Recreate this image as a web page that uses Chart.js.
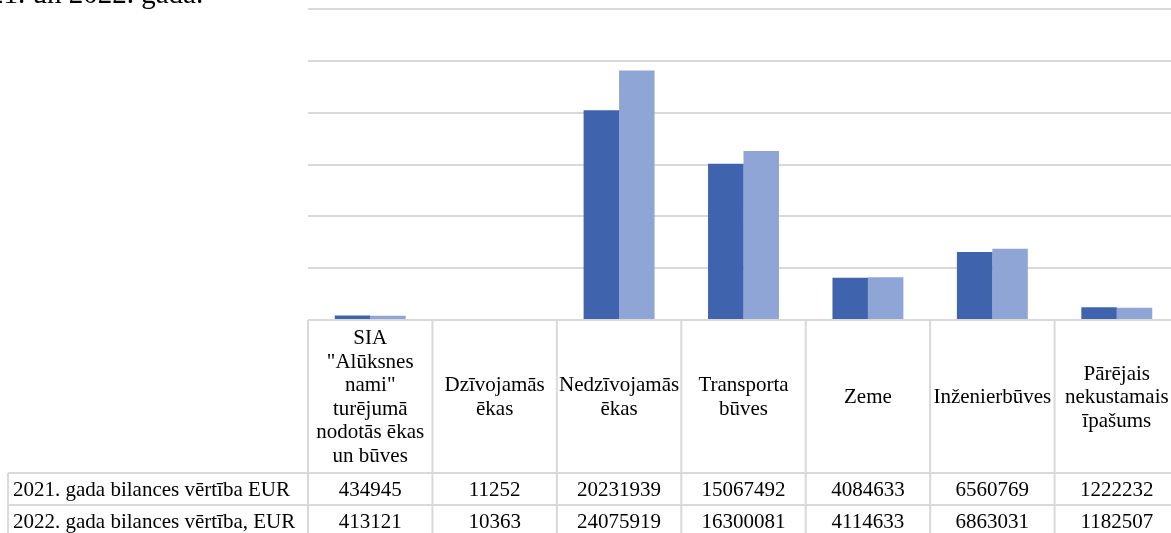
<!DOCTYPE html>
<html>
<head>
<meta charset="utf-8">
<script src="https://cdn.jsdelivr.net/npm/chart.js@4/dist/chart.umd.min.js"></script>
<style>
  html, body { margin: 0; padding: 0; background: #fff; overflow: hidden; }
  #wrap { position: relative; width: 1171px; height: 533px; overflow: hidden; }
  #title { position: absolute; left: -40px; top: -23px; font-family: "Liberation Serif", "Times New Roman", serif;
           font-size: 29px; color: #000; white-space: nowrap; }
  canvas { position: absolute; left: 0; top: 0; }
</style>
</head>
<body>
<div id="wrap">
  <canvas id="c" width="1180" height="533"></canvas>
  <div id="title">2021. un 2022. gada.</div>
</div>
<script>
// kategorijas (rindas galvenē)
var categories = [
  ['SIA', '"Alūksnes', 'nami"', 'turējumā', 'nodotās ēkas', 'un būves'],
  ['Dzīvojamās', 'ēkas'],
  ['Nedzīvojamās', 'ēkas'],
  ['Transporta', 'būves'],
  ['Zeme'],
  ['Inženierbūves'],
  ['Pārējais', 'nekustamais', 'īpašums']
];
var seriesNames = ['2021. gada bilances vērtība EUR', '2022. gada bilances vērtība, EUR'];
var values2021 = [434945, 11252, 20231939, 15067492, 4084633, 6560769, 1222232];
var values2022 = [413121, 10363, 24075919, 16300081, 4114633, 6863031, 1182507];
var colors = ['#3F64AD', '#8FA5D5'];

var FONT = '21px "Liberation Serif", "Times New Roman", serif';
var LINE = '#d9d9d9';

// zīmē datu tabulu zem grafika
var dataTable = {
  id: 'dataTable',
  afterDraw: function(chart) {
    var ctx = chart.ctx;
    var area = chart.chartArea;
    var xs = chart.scales.x;
    var n = categories.length;
    var colW = (area.right - area.left) / n;
    var headTop = area.bottom, headBot = 473;
    var rowH = 32;
    var labelLeft = 8;
    ctx.save();
    ctx.strokeStyle = LINE;
    ctx.lineWidth = 2;
    // galvenes vertikālās līnijas
    ctx.beginPath();
    for (var i = 0; i <= n; i++) {
      var x = area.left + i * colW;
      ctx.moveTo(x, headTop); ctx.lineTo(x, headBot + rowH * 2 + 10);
    }
    // horizontālās līnijas
    for (var r = 0; r < 2; r++) {
      var y = headBot + r * rowH;
      ctx.moveTo(labelLeft, y); ctx.lineTo(area.right, y);
    }
    ctx.moveTo(area.left, headTop); ctx.lineTo(area.right, headTop);
    ctx.moveTo(labelLeft, headBot); ctx.lineTo(labelLeft, headBot + rowH * 2 + 10);
    ctx.stroke();

    ctx.fillStyle = '#000';
    ctx.font = FONT;
    ctx.textAlign = 'center';
    ctx.textBaseline = 'middle';
    var lh = 23.5;
    var midHead = (headTop + headBot) / 2 + 1;
    categories.forEach(function(lines, i) {
      var cx = xs.getPixelForValue(i);
      var y0 = midHead - (lines.length - 1) * lh / 2;
      lines.forEach(function(t, j) { ctx.fillText(t, cx, y0 + j * lh); });
    });
    var rows = [values2021, values2022];
    rows.forEach(function(vals, r) {
      var cy = headBot + r * rowH + rowH / 2 + 1;
      ctx.textAlign = 'left';
      ctx.fillText(seriesNames[r], 13, cy);
      ctx.textAlign = 'center';
      vals.forEach(function(v, i) { ctx.fillText(String(v), xs.getPixelForValue(i), cy); });
    });
    ctx.restore();
  }
};

new Chart(document.getElementById('c').getContext('2d'), {
  type: 'bar',
  data: {
    labels: categories,
    datasets: [
      { label: seriesNames[0], data: values2021, backgroundColor: colors[0] },
      { label: seriesNames[1], data: values2022, backgroundColor: colors[1] }
    ]
  },
  options: {
    responsive: false,
    animation: false,
    layout: { padding: { left: 308, right: 1, top: 9, bottom: 213 } },
    datasets: { bar: { categoryPercentage: 0.57, barPercentage: 1 } },
    plugins: { legend: { display: false }, tooltip: { enabled: false } },
    scales: {
      x: { display: false },
      y: {
        min: 0, max: 30000000,
        ticks: { stepSize: 5000000, display: false },
        border: { display: false },
        grid: { color: LINE, lineWidth: 2, drawTicks: false }
      }
    }
  },
  plugins: [dataTable]
});
</script>
</body>
</html>
